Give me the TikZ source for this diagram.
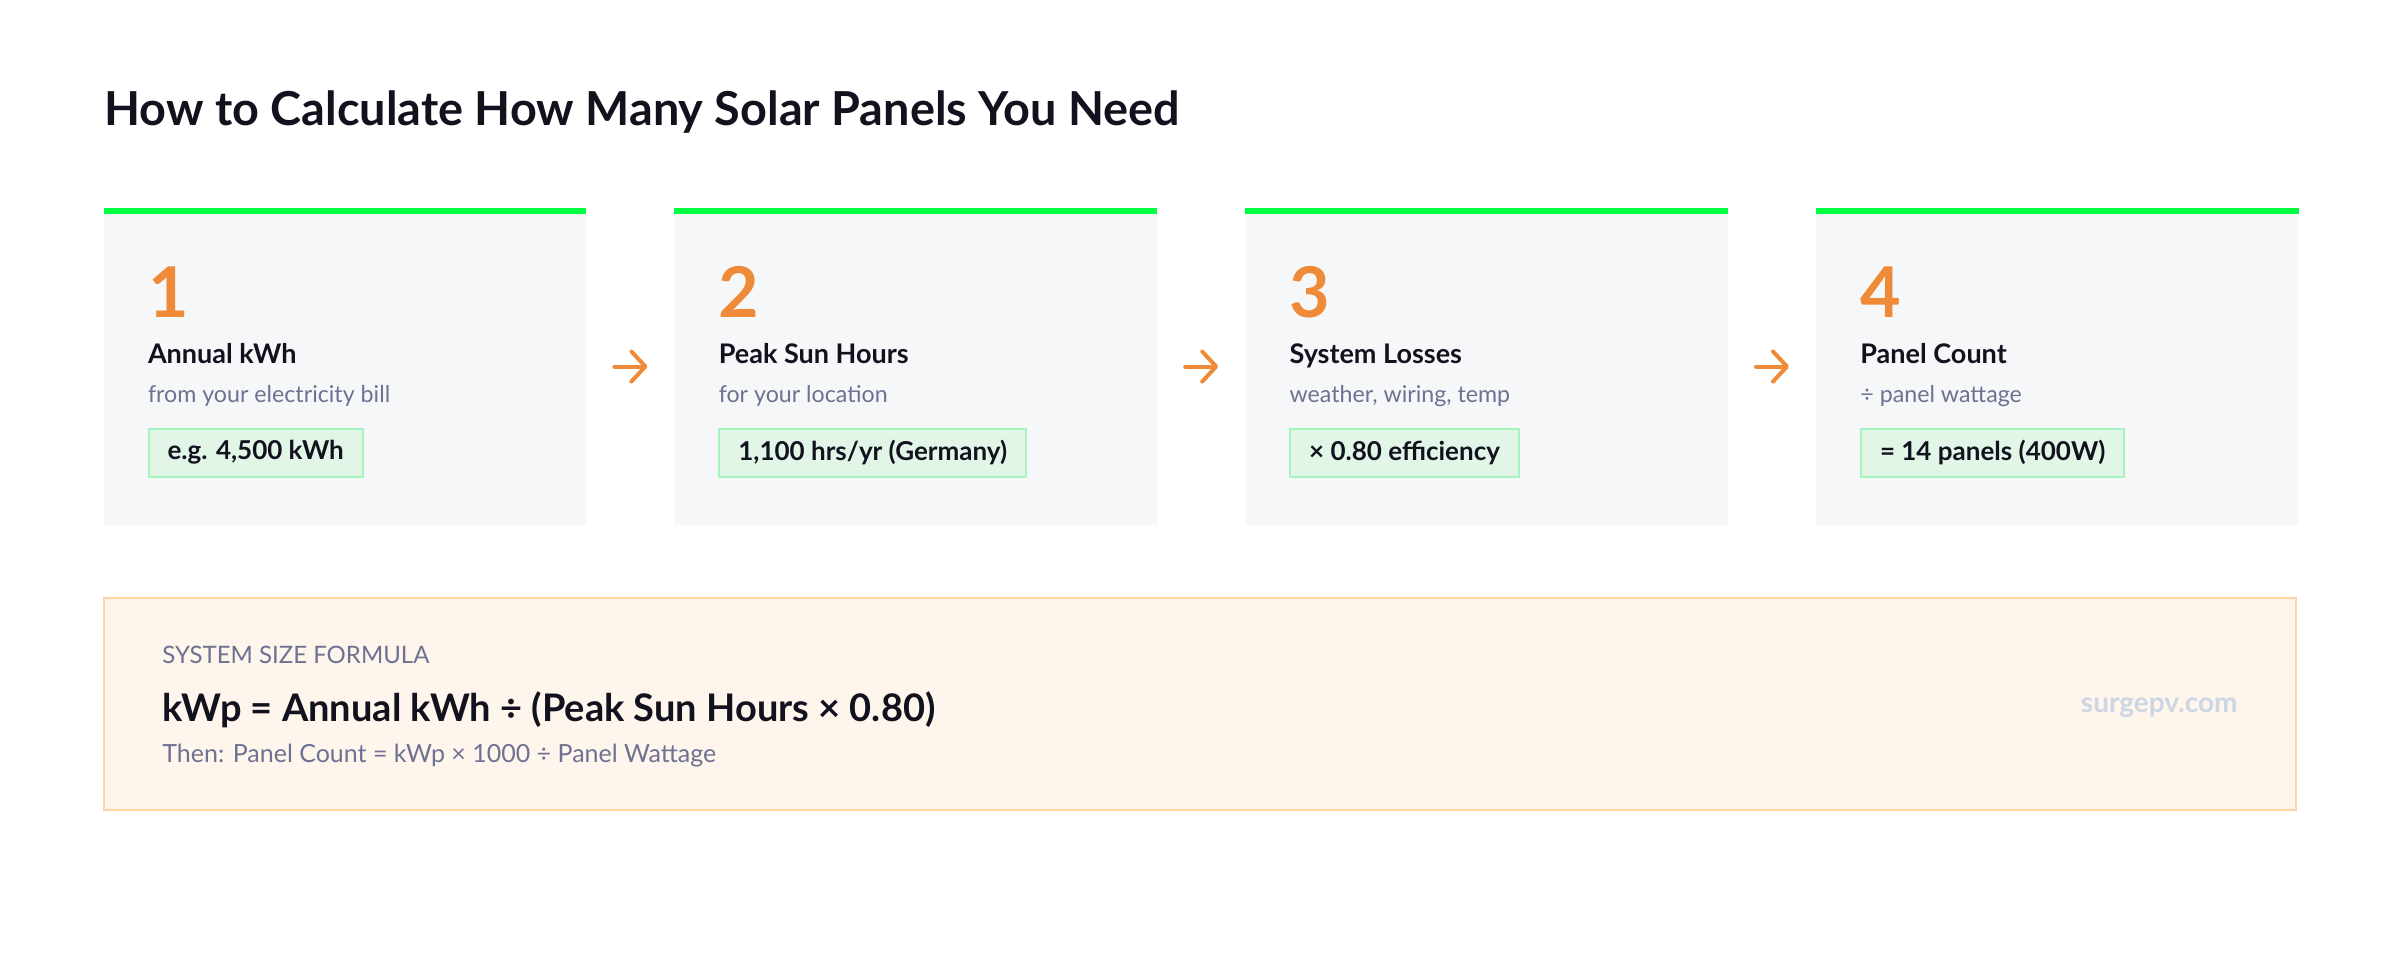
\documentclass[tikz,border=0pt]{standalone}
\usepackage{fontspec}
\setmainfont{Lato}
\usepackage{tikz}
\usetikzlibrary{positioning, arrows.meta}
\definecolor{ink}{HTML}{12121F}
\definecolor{barGreen}{HTML}{00FF40}
\definecolor{cardFill}{HTML}{F6F7F9}
\definecolor{stepOrange}{HTML}{EE8A38}
\definecolor{mutedText}{HTML}{6E7191}
\definecolor{valueFill}{HTML}{E2F6E8}
\definecolor{valueLine}{HTML}{A6F4BF}
\definecolor{formulaFill}{HTML}{FEF5EC}
\definecolor{formulaLine}{HTML}{FBD6A2}
\definecolor{brandText}{HTML}{CDD6E3}
\tikzset{
    x=0.5pt, y=-0.5pt, % one unit is one pixel of the layout, y grows downwards
    node distance=44pt, % gap between two cards
    card/.style={fill=cardFill, minimum width=241pt, minimum height=158.5pt, inner sep=0pt}, % grey step card
    topbar/.style={draw=barGreen, line width=3pt}, % green line on top of each card
    stepnum/.style={anchor=base west, inner sep=0pt, text=stepOrange, font=\fontsize{35}{35}\selectfont\bfseries},
    steptitle/.style={anchor=base west, inner sep=0pt, text=ink, font=\fontsize{13.5}{16}\selectfont\bfseries},
    stepsub/.style={anchor=base west, inner sep=0pt, text=mutedText, font=\fontsize{11.6}{13}\selectfont},
    valuebox/.style={anchor=north west, fill=valueFill, draw=valueLine, line width=1pt, inner xsep=9.5pt,
        minimum height=24pt, text=ink, font=\fontsize{13}{14}\selectfont\bfseries},
    flowarrow/.style={-{Straight Barb[length=7pt,width=15pt,round]}, line width=2pt, line cap=round, draw=stepOrange},
    formulabox/.style={fill=formulaFill, draw=formulaLine, line width=1pt, minimum width=1096pt, minimum height=106pt},
}
\begin{document}
\begin{tikzpicture}
    \useasboundingbox[fill=white] (0,0) rectangle (2400,960);
    \node[anchor=base west, inner sep=0pt, text=ink, font=\fontsize{23.4}{26}\selectfont\bfseries] (title) at (104,125)
        {How to Calculate How Many Solar Panels You Need};

    % the four steps
    \node[card] (card1) at (345,366.5) {};
    \node[card, right=of card1] (card2) {};
    \node[card, right=of card2] (card3) {};
    \node[card, right=of card3] (card4) {};
    \draw[topbar] ([yshift=-1.5pt]card1.north west) -- ([yshift=-1.5pt]card1.north east);
    \draw[topbar] ([yshift=-1.5pt]card2.north west) -- ([yshift=-1.5pt]card2.north east);
    \draw[topbar] ([yshift=-1.5pt]card3.north west) -- ([yshift=-1.5pt]card3.north east);
    \draw[topbar] ([yshift=-1.5pt]card4.north west) -- ([yshift=-1.5pt]card4.north east);

    \node[stepnum] (num1) at ([shift={(22pt,-55pt)}]card1.north west) {1};
    \node[steptitle] (head1) at ([shift={(22pt,-78pt)}]card1.north west) {Annual kWh};
    \node[stepsub] (sub1) at ([shift={(22pt,-97.5pt)}]card1.north west) {from your electricity bill};
    \node[valuebox] (val1) at ([shift={(22pt,-110pt)}]card1.north west) {e.g. 4,500 kWh};

    \node[stepnum] (num2) at ([shift={(22pt,-55pt)}]card2.north west) {2};
    \node[steptitle] (head2) at ([shift={(22pt,-78pt)}]card2.north west) {Peak Sun Hours};
    \node[stepsub] (sub2) at ([shift={(22pt,-97.5pt)}]card2.north west) {for your location};
    \node[valuebox] (val2) at ([shift={(22pt,-110pt)}]card2.north west) {1,100 hrs/yr (Germany)};

    \node[stepnum] (num3) at ([shift={(22pt,-55pt)}]card3.north west) {3};
    \node[steptitle] (head3) at ([shift={(22pt,-78pt)}]card3.north west) {System Losses};
    \node[stepsub] (sub3) at ([shift={(22pt,-97.5pt)}]card3.north west) {weather, wiring, temp};
    \node[valuebox] (val3) at ([shift={(22pt,-110pt)}]card3.north west) {× 0.80 efficiency};

    \node[stepnum] (num4) at ([shift={(22pt,-55pt)}]card4.north west) {4};
    \node[steptitle] (head4) at ([shift={(22pt,-78pt)}]card4.north west) {Panel Count};
    \node[stepsub] (sub4) at ([shift={(22pt,-97.5pt)}]card4.north west) {÷ panel wattage};
    \node[valuebox] (val4) at ([shift={(22pt,-110pt)}]card4.north west) {= 14 panels (400W)};

    \draw[flowarrow] ([xshift=14pt]card1.east) -- ([xshift=-13.5pt]card2.west);
    \draw[flowarrow] ([xshift=14pt]card2.east) -- ([xshift=-13.5pt]card3.west);
    \draw[flowarrow] ([xshift=14pt]card3.east) -- ([xshift=-13.5pt]card4.west);

    % formula panel
    \node[formulabox] (formula) at (1200,704) {};
    \node[anchor=base west, inner sep=0pt, text=mutedText, font=\fontsize{12}{13}\selectfont] (fhead) at (162,663)
        {SYSTEM SIZE FORMULA};
    \node[anchor=base west, inner sep=0pt, text=ink, font=\fontsize{19}{22}\selectfont\bfseries] (fmain) at (162,721)
        {kWp = Annual kWh ÷ (Peak Sun Hours × 0.80)};
    \node[anchor=base west, inner sep=0pt, text=mutedText, font=\fontsize{12.5}{14}\selectfont] (fthen) at (162,762)
        {Then: Panel Count = kWp × 1000 ÷ Panel Wattage};
    \node[anchor=base east, inner sep=0pt, text=brandText, font=\fontsize{14}{16}\selectfont\bfseries] (brand) at (2238,712)
        {surgepv.com};
\end{tikzpicture}
\end{document}
